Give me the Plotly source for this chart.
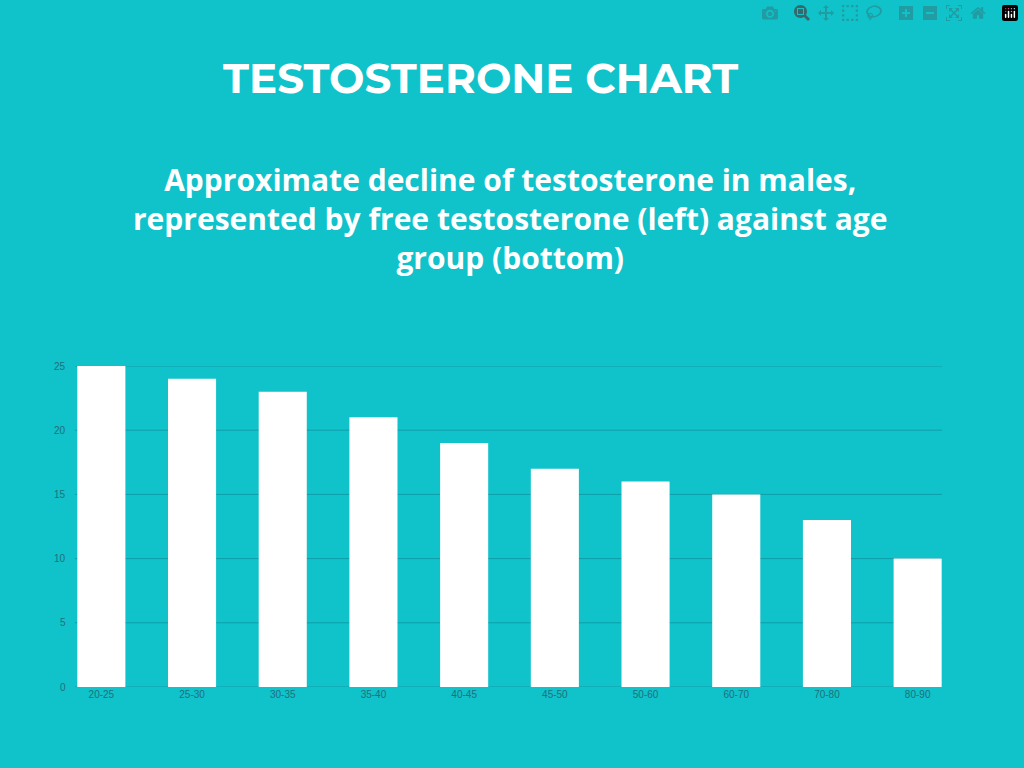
import plotly.graph_objects as go

# %%
age_groups = ["20-25", "25-30", "30-35", "35-40", "40-45", "45-50", "50-60", "60-70", "70-80", "80-90"]
free_testosterone = [25, 24, 23, 21, 19, 17, 16, 15, 13, 10]
y_ticks = [0, 5, 10, 15, 20, 25]

bg = "#10c2ca"
label_col = "#1f6f7c"
grid_col = "#0e9ea8"

fig = go.Figure(
    layout=go.Layout(
        width=1024,
        height=768,
        paper_bgcolor=bg,
        plot_bgcolor=bg,
        margin=dict(l=56, r=61, t=366, b=81),
        showlegend=False,
        font=dict(family="Liberation Sans, Arial", size=10, color=label_col),
    )
)
fig.add_trace(
    go.Bar(x=age_groups, y=free_testosterone, marker=dict(color="white", line=dict(width=0)))
)
fig.update_layout(bargap=0.47)

# grid lines drawn as shapes, they start a bit right of the plot edge
for t in y_ticks:
    fig.add_shape(
        type="line", xref="paper", yref="y", x0=19 / 907, x1=886 / 907, y0=t, y1=t,
        line=dict(color=grid_col, width=1), layer="below",
    )
    # y tick labels sit inside the plot area
    fig.add_annotation(
        text=str(t), xref="paper", yref="y", x=12 / 907, y=t, xanchor="right",
        yanchor="middle", showarrow=False, font=dict(size=10, color=label_col),
    )

fig.update_yaxes(range=[0, 25], showgrid=False, zeroline=False, showticklabels=False, ticks="")
fig.update_xaxes(
    range=[-0.5, 9.5], showgrid=False, ticks="", showline=False,
    tickfont=dict(size=10, color=label_col),
)

fig.add_annotation(
    text="<b>TESTOSTERONE CHART</b>", xref="paper", yref="paper", x=(480 - 56) / 907, y=1,
    yshift=288, xanchor="center", yanchor="middle", showarrow=False,
    font=dict(family="Montserrat, Poppins, DejaVu Sans", size=42, color="white"),
)
fig.add_annotation(
    text="<b>Approximate decline of testosterone in males,<br>represented by free testosterone (left) against age<br>group (bottom)</b>",
    xref="paper", yref="paper", x=(510 - 56) / 907, y=1, yshift=148,
    xanchor="center", yanchor="middle", showarrow=False, align="center",
    font=dict(family="Open Sans", size=30, color="white"),
)

fig.write_html("out.html", post_script="document.body.style.margin='0';")
